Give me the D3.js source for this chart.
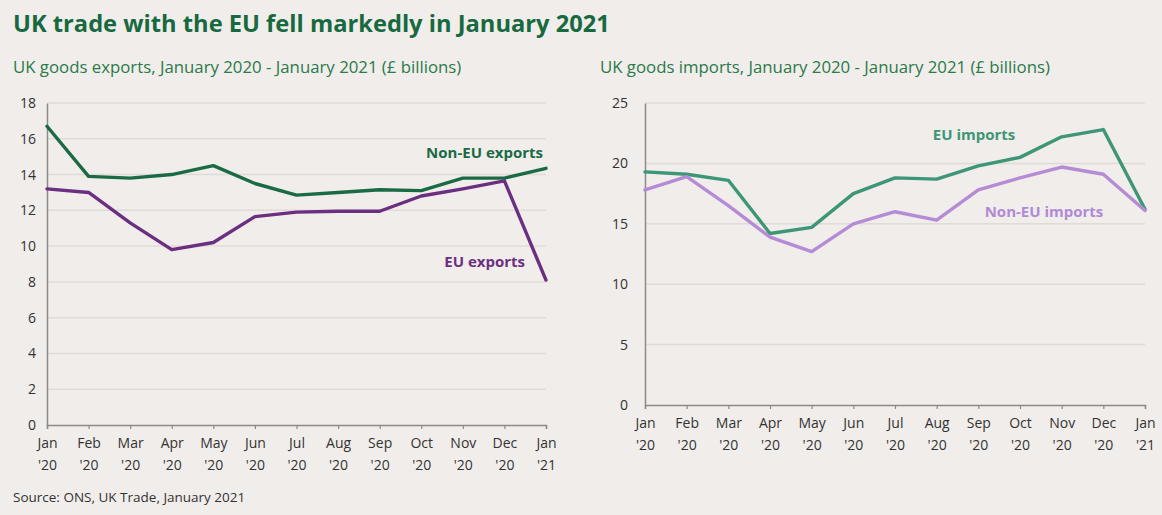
<!DOCTYPE html>
<html>
<head>
<meta charset="utf-8">
<script src="https://cdn.jsdelivr.net/npm/d3@7"></script>
<style>
  html, body { margin: 0; padding: 0; background: #f1edea; }
  svg { display: block; }
  text { font-family: "Open Sans", "Noto Sans", sans-serif; }
</style>
</head>
<body>
<svg id="chart" width="1162" height="515"></svg>
<script>
// Month labels (two lines each)
const months = ["Jan", "Feb", "Mar", "Apr", "May", "Jun", "Jul", "Aug", "Sep", "Oct", "Nov", "Dec", "Jan"];
const years = ["'20", "'20", "'20", "'20", "'20", "'20", "'20", "'20", "'20", "'20", "'20", "'20", "'21"];

// UK goods exports (£ billions)
const nonEuExports = [16.7, 13.9, 13.8, 14.0, 14.5, 13.5, 12.85, 13.0, 13.15, 13.1, 13.8, 13.8, 14.35];
const euExports = [13.2, 13.0, 11.3, 9.8, 10.2, 11.65, 11.9, 11.95, 11.95, 12.8, 13.2, 13.65, 8.1];

// UK goods imports (£ billions)
const euImports = [19.3, 19.1, 18.6, 14.2, 14.7, 17.5, 18.8, 18.7, 19.8, 20.5, 22.2, 22.8, 16.2];
const nonEuImports = [17.8, 18.9, 16.5, 13.9, 12.7, 15.0, 16.0, 15.3, 17.8, 18.8, 19.7, 19.1, 16.1];

const exportTicks = [0, 2, 4, 6, 8, 10, 12, 14, 16, 18];
const importTicks = [0, 5, 10, 15, 20, 25];

const svg = d3.select("#chart");

svg.append("text")
  .attr("x", 13).attr("y", 32)
  .attr("fill", "#17693f")
  .attr("font-size", 23.7).attr("font-weight", 700)
  .text("UK trade with the EU fell markedly in January 2021");

svg.append("text")
  .attr("x", 13).attr("y", 73)
  .attr("fill", "#2a7a4a")
  .attr("font-size", 16.8)
  .text("UK goods exports, January 2020 - January 2021 (£ billions)");

svg.append("text")
  .attr("x", 600).attr("y", 73)
  .attr("fill", "#2a7a4a")
  .attr("font-size", 16.8)
  .text("UK goods imports, January 2020 - January 2021 (£ billions)");

svg.append("text")
  .attr("x", 13).attr("y", 502)
  .attr("fill", "#333")
  .attr("font-size", 13.5)
  .text("Source: ONS, UK Trade, January 2021");

function panel(opts) {
  const g = svg.append("g");
  const x = d3.scalePoint().domain(d3.range(months.length)).range([opts.x0, opts.x1]);
  const y = d3.scaleLinear().domain([0, opts.max]).range([opts.y0, opts.y1]);

  // gridlines
  g.append("g").selectAll("line")
    .data(opts.ticks.filter(t => t > 0))
    .join("line")
    .attr("x1", opts.x0).attr("x2", opts.x1)
    .attr("y1", d => y(d)).attr("y2", d => y(d))
    .attr("stroke", "#e0dbd7").attr("stroke-width", 1.5);

  // y axis
  const ya = g.append("g")
    .attr("transform", `translate(${opts.x0},0)`)
    .call(d3.axisLeft(y).tickValues(opts.ticks).tickSize(0).tickPadding(opts.pad));
  ya.select(".domain").attr("stroke", "#8a8a8a").attr("stroke-width", 1.5);
  ya.selectAll("text").attr("font-size", 14).attr("fill", "#333")
    .attr("font-family", '"Open Sans", sans-serif');

  // x axis
  const xa = g.append("g")
    .attr("transform", `translate(0,${opts.y0})`)
    .call(d3.axisBottom(x).tickSize(4).tickFormat(""));
  xa.select(".domain").attr("stroke", "#8a8a8a").attr("stroke-width", 1.5);
  xa.selectAll(".tick line").attr("stroke", "#8a8a8a").attr("stroke-width", 1.2);
  xa.selectAll(".tick").each(function (d) {
    const t = d3.select(this).append("text")
      .attr("fill", "#333").attr("font-size", 14)
      .attr("text-anchor", "middle")
      .attr("font-family", '"Open Sans", sans-serif');
    t.append("tspan").attr("x", 0).attr("y", 23).text(months[d]);
    t.append("tspan").attr("x", 0).attr("y", 45).text(years[d]);
  });

  const line = d3.line().x((d, i) => x(i)).y(d => y(d));
  opts.series.forEach(s => {
    g.append("path")
      .datum(s.values)
      .attr("fill", "none")
      .attr("stroke", s.color)
      .attr("stroke-width", 3.4)
      .attr("stroke-linejoin", "round")
      .attr("stroke-linecap", "round")
      .attr("d", line);
    g.append("text")
      .attr("x", x(s.labelAt[0]) + s.labelOffset)
      .attr("y", y(s.labelAt[1]))
      .attr("fill", s.labelColor)
      .attr("font-size", 15).attr("font-weight", 700)
      .attr("text-anchor", "end")
      .text(s.name);
  });
}

panel({
  x0: 47, x1: 546, y0: 425, y1: 103, max: 18, ticks: exportTicks, pad: 11,
  series: [
    { name: "Non-EU exports", values: nonEuExports, color: "#1a6b44", labelColor: "#1a6b44",
      labelAt: [12, 14.9], labelOffset: -3 },
    { name: "EU exports", values: euExports, color: "#6b2f82", labelColor: "#6b2f82",
      labelAt: [12, 8.83], labelOffset: -21 }
  ]
});

panel({
  x0: 645, x1: 1145, y0: 405, y1: 103, max: 25, ticks: importTicks, pad: 17,
  series: [
    { name: "EU imports", values: euImports, color: "#3d9676", labelColor: "#3d9676",
      labelAt: [8, 21.9], labelOffset: 37 },
    { name: "Non-EU imports", values: nonEuImports, color: "#b58bd6", labelColor: "#b08ad4",
      labelAt: [11, 15.55], labelOffset: 0 }
  ]
});
</script>
</body>
</html>
